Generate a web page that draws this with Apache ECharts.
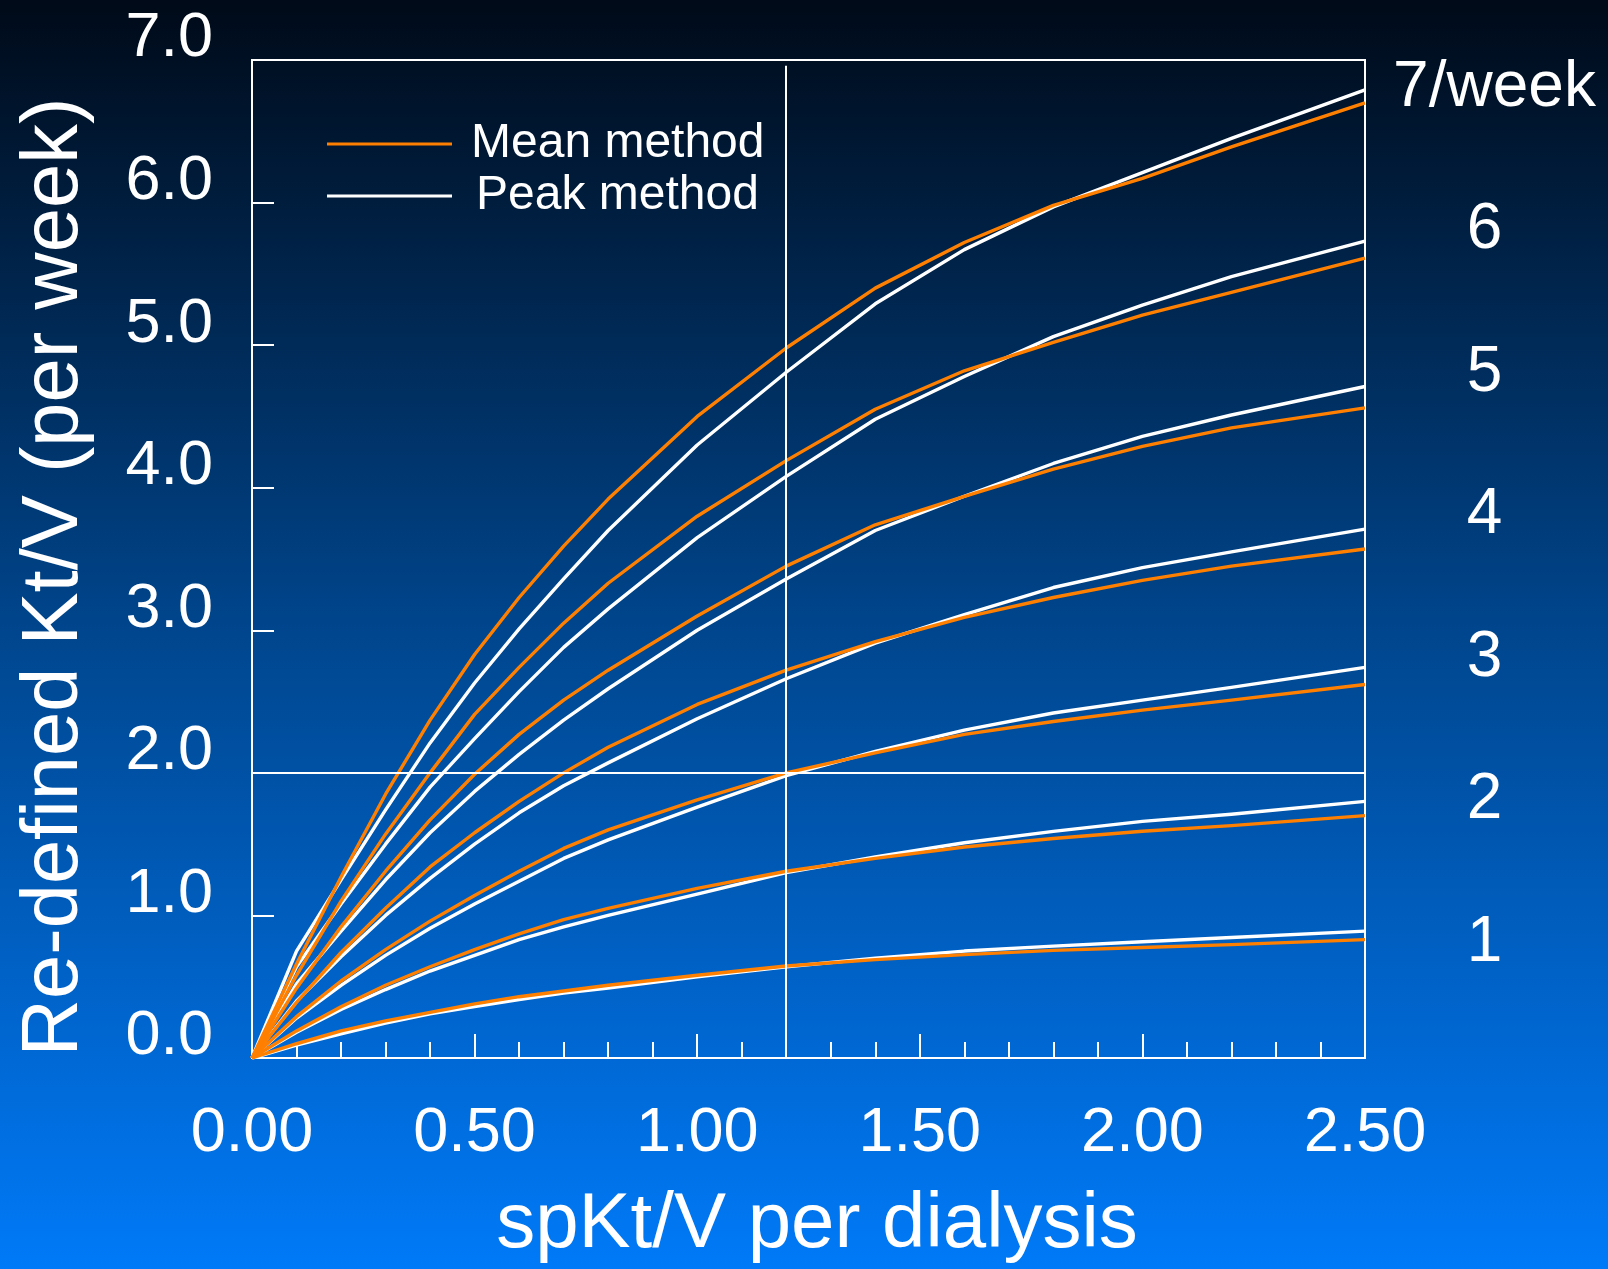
<!DOCTYPE html>
<html>
<head>
<meta charset="utf-8">
<style>
html,body{margin:0;padding:0;width:1608px;height:1269px;overflow:hidden;background:#003a78;}
#chart{width:1608px;height:1269px;}
</style>
<script src="https://cdn.jsdelivr.net/npm/echarts@6/dist/echarts.min.js"></script>
</head>
<body>
<div id="chart"></div>
<script>
// spKt/V per dialysis (x values of every curve)
const xValues = [0, 0.1, 0.2, 0.3, 0.4, 0.5, 0.6, 0.7, 0.8, 1.0, 1.2, 1.4, 1.6, 1.8, 2.0, 2.2, 2.5];

// Re-defined weekly Kt/V, mean method (orange), per frequency
const mean1 = [0, 0.10, 0.19, 0.26, 0.32, 0.38, 0.43, 0.47, 0.51, 0.58, 0.645, 0.69, 0.725, 0.755, 0.775, 0.795, 0.83];
const mean2 = [0, 0.19, 0.36, 0.51, 0.64, 0.76, 0.87, 0.97, 1.05, 1.19, 1.31, 1.40, 1.48, 1.54, 1.59, 1.63, 1.70];
const mean3 = [0, 0.29, 0.54, 0.76, 0.96, 1.14, 1.31, 1.47, 1.60, 1.81, 2.00, 2.14, 2.27, 2.36, 2.44, 2.51, 2.62];
const mean4 = [0, 0.39, 0.74, 1.05, 1.34, 1.58, 1.80, 2.00, 2.18, 2.48, 2.72, 2.92, 3.09, 3.23, 3.35, 3.45, 3.57];
const mean5 = [0, 0.49, 0.92, 1.31, 1.67, 1.99, 2.27, 2.51, 2.72, 3.10, 3.45, 3.74, 3.94, 4.13, 4.29, 4.42, 4.56];
const mean6 = [0, 0.58, 1.10, 1.57, 2.00, 2.41, 2.74, 3.05, 3.33, 3.80, 4.19, 4.55, 4.82, 5.02, 5.21, 5.37, 5.61];
const mean7 = [0, 0.66, 1.27, 1.85, 2.37, 2.83, 3.23, 3.59, 3.92, 4.50, 4.98, 5.40, 5.72, 5.98, 6.17, 6.39, 6.70];

// Re-defined weekly Kt/V, peak method (white), per frequency
const peak1 = [0, 0.09, 0.17, 0.245, 0.31, 0.36, 0.41, 0.455, 0.49, 0.57, 0.64, 0.70, 0.75, 0.785, 0.815, 0.845, 0.89];
const peak2 = [0, 0.18, 0.34, 0.48, 0.61, 0.72, 0.83, 0.92, 1.00, 1.15, 1.30, 1.41, 1.51, 1.59, 1.66, 1.71, 1.80];
const peak3 = [0, 0.28, 0.51, 0.72, 0.91, 1.08, 1.24, 1.40, 1.53, 1.76, 1.98, 2.15, 2.30, 2.42, 2.51, 2.60, 2.74];
const peak4 = [0, 0.40, 0.71, 1.00, 1.26, 1.50, 1.72, 1.91, 2.07, 2.38, 2.66, 2.91, 3.11, 3.30, 3.44, 3.55, 3.71];
const peak5 = [0, 0.52, 0.89, 1.25, 1.58, 1.87, 2.13, 2.37, 2.59, 3.00, 3.36, 3.70, 3.94, 4.17, 4.36, 4.51, 4.71];
const peak6 = [0, 0.64, 1.08, 1.50, 1.90, 2.24, 2.57, 2.88, 3.15, 3.65, 4.08, 4.48, 4.78, 5.06, 5.28, 5.48, 5.73];
const peak7 = [0, 0.75, 1.25, 1.74, 2.21, 2.63, 3.01, 3.36, 3.70, 4.30, 4.81, 5.29, 5.67, 5.97, 6.21, 6.45, 6.79];

// Frequency labels on the right side
const freqLevels = [1, 2, 3, 4, 5, 6, 7];
const freqLabels = ['1', '2', '3', '4', '5', '6', '7/week'];

// Reference lines
const refX = 1.2;
const refY = 2.0;

const meanSeries = [mean1, mean2, mean3, mean4, mean5, mean6, mean7];
const peakSeries = [peak1, peak2, peak3, peak4, peak5, peak6, peak7];

const FONT = 'Liberation Sans, Arial, Helvetica, sans-serif';
const ORANGE = '#ff7f00';
const WHITE = '#ffffff';

function pairs(ys) { return xValues.map((x, i) => [x, ys[i]]); }

const series = [];
peakSeries.forEach(ys => series.push({
  name: 'Peak method', type: 'line', data: pairs(ys), symbol: 'none', smooth: false,
  lineStyle: { color: WHITE, width: 3.4, join: 'round' }, itemStyle: { color: WHITE }, z: 3, silent: true
}));
meanSeries.forEach(ys => series.push({
  name: 'Mean method', type: 'line', data: pairs(ys), symbol: 'none', smooth: false,
  lineStyle: { color: ORANGE, width: 3.4, join: 'round' }, itemStyle: { color: ORANGE }, z: 4, silent: true
}));
series.push({
  name: 'labels', type: 'scatter', symbolSize: 1, z: 5, silent: true,
  itemStyle: { color: 'rgba(0,0,0,0)' },
  data: freqLevels.map((v, i) => ({
    value: [2.5, v],
    label: { formatter: freqLabels[i], offset: [freqLabels[i].length > 1 ? 129 : 119, 28] }
  })),
  label: {
    show: true, position: 'right', distance: 0,
    color: WHITE, opacity: 1, textBorderWidth: 0, fontFamily: FONT, fontSize: 64,
    align: 'center', verticalAlign: 'middle'
  },
  markLine: {
    silent: true, symbol: 'none', animation: false,
    lineStyle: { color: WHITE, width: 2, type: 'solid', opacity: 1 }, label: { show: false },
    data: [
      [{ coord: [refX, 0] }, { coord: [refX, 6.96] }],
      [{ coord: [0, refY] }, { coord: [2.5, refY] }]
    ]
  }
});

const chart = echarts.init(document.getElementById('chart'), null, { renderer: 'canvas' });
chart.setOption({
  animation: false,
  backgroundColor: {
    type: 'linear', x: 0, y: 0, x2: 0, y2: 1,
    colorStops: [
      { offset: 0, color: '#000a18' },
      { offset: 0.5, color: '#00468e' },
      { offset: 1, color: '#007af8' }
    ]
  },
  grid: { left: 252, right: 243, top: 60, bottom: 201, show: true, borderColor: WHITE, borderWidth: 2, backgroundColor: 'transparent' },
  legend: {
    data: [
      { name: 'Mean method' },
      { name: 'Peak method', textStyle: { padding: [0, 0, 0, 19] } }
    ],
    orient: 'vertical', left: 322, top: 115, itemWidth: 125, itemHeight: 3, itemGap: 4,
    icon: 'rect', selectedMode: false,
    textStyle: { color: WHITE, fontFamily: FONT, fontSize: 48, lineHeight: 48, padding: [0, 0, 0, 14] }
  },
  xAxis: {
    type: 'value', min: 0, max: 2.5, interval: 0.5,
    name: 'spKt/V per dialysis', nameLocation: 'middle', nameGap: 128,
    nameTextStyle: { color: WHITE, fontFamily: FONT, fontSize: 78, padding: [0, 0, 0, 17] },
    axisLine: { show: true, lineStyle: { color: WHITE, width: 2 } },
    axisTick: { show: true, inside: true, length: 24, lineStyle: { color: WHITE, width: 2 } },
    minorTick: { show: true, splitNumber: 5, length: 16, lineStyle: { color: WHITE, width: 2 } },
    splitLine: { show: false }, minorSplitLine: { show: false },
    axisLabel: { color: WHITE, fontFamily: FONT, fontSize: 63, margin: 44, formatter: v => v.toFixed(2) }
  },
  yAxis: {
    type: 'value', min: 0, max: 7, interval: 1,
    name: 'Re-defined Kt/V (per week)', nameLocation: 'middle', nameGap: 157, nameRotate: 90,
    nameTextStyle: { color: WHITE, fontFamily: FONT, fontSize: 79.5, padding: [0, 36, 0, 0] },
    axisLine: { show: true, lineStyle: { color: WHITE, width: 2 } },
    axisTick: { show: true, inside: true, length: 22, lineStyle: { color: WHITE, width: 2 } },
    splitLine: { show: false },
    axisLabel: { color: WHITE, fontFamily: FONT, fontSize: 63, margin: 39, verticalAlign: 'bottom', lineHeight: 42, formatter: v => v.toFixed(1) }
  },
  series: series
});
</script>
</body>
</html>
